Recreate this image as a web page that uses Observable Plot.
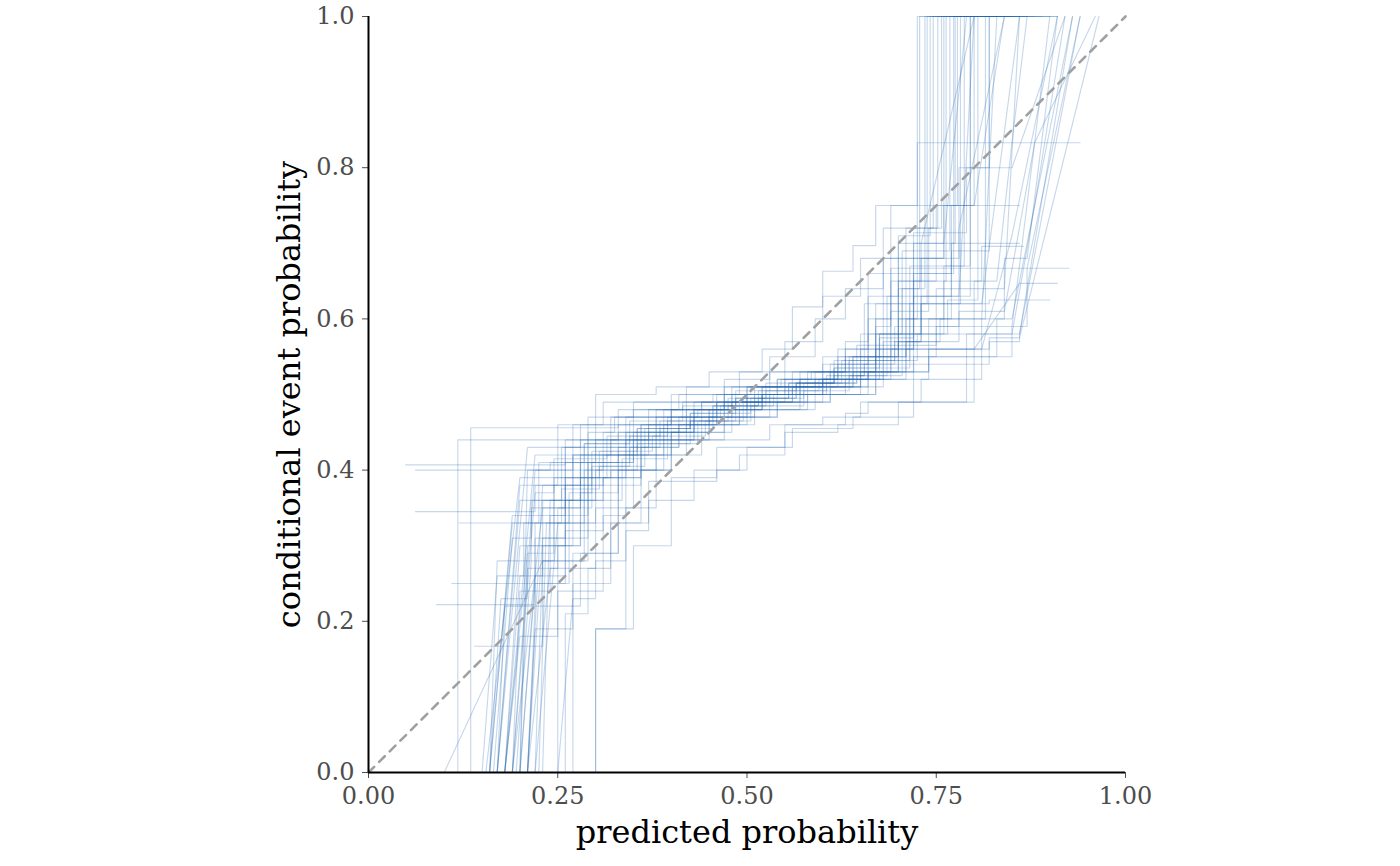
<!DOCTYPE html>
<html>
<head>
<meta charset="utf-8">
<script src="https://cdn.jsdelivr.net/npm/d3@7"></script>
<script src="https://cdn.jsdelivr.net/npm/@observablehq/plot@0.6"></script>
<style>
  html, body { margin: 0; padding: 0; background: #fff; }
  #chart svg { display: block; }
</style>
</head>
<body>
<div id="chart"></div>
<script>
// Axis ticks and labels
const xTicks = [0, 0.25, 0.5, 0.75, 1];
const yTicks = [0, 0.2, 0.4, 0.6, 0.8, 1];
const xLabel = "predicted probability";
const yLabel = "conditional event probability";
const diagonal = [0, 1];

// Bootstrap reliability curves.
// Each knot is [x, y] (step: horizontal then vertical) or [x, y, 1] (straight link).
const curve01 = [[0.16,0],[0.19,0.34,1],[0.26,0.41],[0.33,0.45],[0.41,0.47],[0.47,0.49],[0.55,0.51],[0.62,0.54],[0.67,0.62],[0.738,1.0],[0.82,1.0]];
const curve02 = [[0.18,0],[0.21,0.29,1],[0.245,0.38],[0.295,0.425],[0.355,0.455],[0.425,0.475],[0.505,0.495],[0.575,0.515],[0.645,0.565],[0.705,0.69],[0.768,1.0],[0.86,1.0]];
const curve03 = [[0.049,0.407],[0.26,0.43],[0.34,0.47],[0.43,0.49],[0.51,0.51],[0.59,0.53],[0.65,0.56],[0.70,0.65],[0.75,0.75],[0.80,0.75],[0.84,1.0,1]];
const curve04 = [[0.20,0],[0.22,0.25,1],[0.265,0.36],[0.335,0.415],[0.395,0.455],[0.455,0.485],[0.515,0.505],[0.595,0.52],[0.675,0.58],[0.715,0.67],[0.795,1.0],[0.88,1.0]];
const curve05 = [[0.118,0],[0.118,0.44],[0.30,0.46],[0.39,0.48],[0.48,0.50],[0.57,0.52],[0.66,0.55],[0.71,0.60],[0.77,0.70],[0.86,0.70]];
const curve06 = [[0.10,0],[0.23,0.28,1],[0.285,0.40],[0.355,0.435],[0.435,0.465],[0.495,0.495],[0.565,0.515],[0.635,0.545],[0.685,0.63],[0.78,0.63],[0.80,1.0,1]];
const curve07 = [[0.21,0],[0.23,0.31,1],[0.29,0.43],[0.37,0.47],[0.44,0.49],[0.52,0.50],[0.60,0.52],[0.67,0.60],[0.71,0.72],[0.757,1.0]];
const curve08 = [[0.135,0],[0.135,0.456],[0.33,0.48],[0.41,0.50],[0.49,0.51],[0.56,0.53],[0.63,0.55],[0.67,0.59],[0.69,0.667],[0.925,0.667]];
const curve09 = [[0.17,0],[0.20,0.36,1],[0.27,0.42],[0.35,0.46],[0.40,0.48],[0.47,0.50],[0.54,0.52],[0.62,0.55],[0.70,0.60],[0.725,0.833],[0.94,0.833]];
const curve10 = [[0.19,0],[0.22,0.37,1],[0.245,0.415],[0.315,0.445],[0.385,0.465],[0.455,0.485],[0.525,0.515],[0.615,0.535],[0.715,0.58],[0.86,0.58],[0.94,1.0,1]];
const curve11 = [[0.062,0.345],[0.22,0.38],[0.28,0.42],[0.36,0.44],[0.43,0.47],[0.50,0.49],[0.57,0.52],[0.66,0.55],[0.70,0.64],[0.728,1.0],[0.91,1.0]];
const curve12 = [[0.16,0],[0.17,0.28,1],[0.215,0.35],[0.295,0.405],[0.345,0.445],[0.395,0.465],[0.475,0.485],[0.535,0.50],[0.605,0.525],[0.655,0.545],[0.715,0.62],[0.81,0.62],[0.86,1.0,1]];
const curve13 = [[0.22,0],[0.25,0.33,1],[0.33,0.42],[0.40,0.47],[0.47,0.50],[0.55,0.52],[0.62,0.56],[0.66,0.60],[0.69,0.75],[0.86,0.75]];
const curve14 = [[0.27,0],[0.27,0.29],[0.33,0.40],[0.40,0.45],[0.48,0.49],[0.56,0.51],[0.64,0.55],[0.69,0.65],[0.73,0.70],[0.80,1.0,1]];
const curve15 = [[0.30,0],[0.30,0.19],[0.34,0.35],[0.38,0.44],[0.45,0.48],[0.52,0.50],[0.60,0.53],[0.69,0.56],[0.74,0.60],[0.81,0.60],[0.83,1.0,1]];
const curve16 = [[0.09,0.222],[0.22,0.25],[0.26,0.40],[0.31,0.45],[0.38,0.47],[0.46,0.49],[0.53,0.51],[0.60,0.54],[0.65,0.58],[0.70,0.70],[0.735,1.0],[0.80,1.0]];
const curve17 = [[0.18,0],[0.20,0.18,1],[0.25,0.30],[0.28,0.37],[0.33,0.43],[0.41,0.46],[0.49,0.49],[0.58,0.51],[0.65,0.53],[0.71,0.56],[0.80,0.56],[0.86,0.647,1],[0.91,0.647]];
const curve18 = [[0.20,0],[0.21,0.40,1],[0.26,0.44],[0.36,0.46],[0.43,0.48],[0.50,0.51],[0.58,0.53],[0.67,0.58],[0.73,0.68],[0.78,0.80],[0.82,1.0],[0.85,1.0]];
const curve19 = [[0.11,0.25],[0.22,0.33],[0.27,0.42],[0.34,0.45],[0.42,0.48],[0.51,0.50],[0.57,0.51],[0.63,0.53],[0.68,0.57],[0.73,0.62],[0.82,0.625],[0.90,0.625]];
const curve20 = [[0.155,0],[0.20,0.39,1],[0.285,0.435],[0.365,0.455],[0.425,0.475],[0.485,0.495],[0.565,0.515],[0.625,0.545],[0.695,0.59],[0.78,0.72],[0.84,1.0,1],[0.90,1.0]];
const curve21 = [[0.19,0],[0.20,0.24,1],[0.24,0.34],[0.29,0.41],[0.35,0.44],[0.44,0.47],[0.51,0.49],[0.60,0.50],[0.67,0.55],[0.71,0.60],[0.76,0.67],[0.787,1.0],[0.83,1.0]];
const curve22 = [[0.21,0],[0.24,0.27,1],[0.30,0.35],[0.35,0.42],[0.42,0.46],[0.50,0.48],[0.59,0.50],[0.66,0.53],[0.74,0.55],[0.85,0.59],[0.88,0.833,1],[0.96,1.0,1]];
const curve23 = [[0.14,0.167],[0.23,0.30],[0.28,0.39],[0.32,0.44],[0.39,0.46],[0.46,0.49],[0.52,0.51],[0.60,0.52],[0.68,0.56],[0.72,0.65],[0.763,1.0],[0.84,1.0]];
const curve24 = [[0.17,0],[0.18,0.22,1],[0.22,0.31],[0.26,0.38],[0.31,0.42],[0.37,0.45],[0.43,0.47],[0.48,0.49],[0.56,0.51],[0.64,0.53],[0.70,0.58],[0.76,0.65],[0.81,0.696],[0.865,0.696]];
const curve25 = [[0.23,0],[0.24,0.36,1],[0.30,0.44],[0.38,0.48],[0.46,0.50],[0.54,0.52],[0.61,0.54],[0.66,0.63],[0.70,0.71],[0.742,1.0],[0.78,1.0]];
const curve26 = [[0.18,0],[0.22,0.42,1],[0.32,0.47],[0.40,0.49],[0.48,0.51],[0.55,0.53],[0.63,0.56],[0.68,0.68],[0.76,0.75],[0.778,1.0],[0.81,1.0]];
const curve27 = [[0.20,0],[0.22,0.26,1],[0.26,0.32],[0.31,0.39],[0.36,0.43],[0.41,0.46],[0.49,0.48],[0.57,0.50],[0.65,0.52],[0.71,0.54],[0.79,0.54],[0.82,0.57],[0.86,0.58],[0.93,1.0,1]];
const curve28 = [[0.16,0],[0.19,0.33,1],[0.225,0.41],[0.285,0.435],[0.345,0.465],[0.415,0.485],[0.485,0.505],[0.555,0.515],[0.615,0.545],[0.655,0.62],[0.72,0.714],[0.79,0.80],[0.85,0.80],[0.92,1.0,1]];
const curve29 = [[0.25,0],[0.25,0.24],[0.31,0.34],[0.34,0.42],[0.39,0.46],[0.46,0.48],[0.52,0.50],[0.59,0.52],[0.65,0.54],[0.71,0.57],[0.73,0.62],[0.782,1.0],[0.89,1.0]];
const curve30 = [[0.062,0.40],[0.24,0.41],[0.30,0.44],[0.37,0.46],[0.45,0.48],[0.52,0.51],[0.61,0.53],[0.67,0.56],[0.72,0.63],[0.77,0.69],[0.82,1.0],[0.87,1.0]];
const curve31 = [[0.21,0],[0.22,0.19,1],[0.27,0.25],[0.32,0.33],[0.36,0.40],[0.40,0.45],[0.47,0.47],[0.54,0.50],[0.63,0.52],[0.69,0.55],[0.75,0.59],[0.85,0.59],[0.87,0.667],[0.94,1.0,1]];
const curve32 = [[0.17,0],[0.21,0.43,1],[0.28,0.46],[0.35,0.48],[0.44,0.49],[0.53,0.50],[0.60,0.52],[0.64,0.55],[0.69,0.61],[0.74,0.72],[0.752,1.0],[0.86,1.0]];
const curve33 = [[0.19,0],[0.23,0.35,1],[0.26,0.39],[0.34,0.44],[0.43,0.46],[0.51,0.48],[0.58,0.50],[0.67,0.52],[0.74,0.56],[0.82,0.575],[0.86,0.575],[0.965,1.0,1]];
const curve34 = [[0.22,0],[0.23,0.28,1],[0.29,0.38],[0.36,0.46],[0.42,0.49],[0.50,0.51],[0.57,0.53],[0.63,0.57],[0.66,0.66],[0.74,0.66],[0.773,1.0],[0.84,1.0]];
const curve35 = [[0.16,0],[0.175,0.23,1],[0.21,0.27],[0.25,0.35],[0.28,0.41],[0.35,0.45],[0.43,0.48],[0.50,0.50],[0.56,0.51],[0.65,0.53],[0.70,0.57],[0.78,0.61],[0.84,0.61],[0.88,0.833,1],[0.90,1.0,1]];
const curve36 = [[0.12,0.33],[0.255,0.375],[0.305,0.405],[0.365,0.435],[0.425,0.465],[0.485,0.495],[0.555,0.515],[0.615,0.535],[0.675,0.575],[0.72,0.70],[0.76,0.70],[0.79,1.0,1],[0.91,1.0]];
const curve37 = [[0.20,0],[0.21,0.30,1],[0.27,0.33],[0.30,0.40],[0.39,0.44],[0.47,0.47],[0.54,0.49],[0.61,0.51],[0.66,0.53],[0.72,0.66],[0.77,0.75],[0.80,1.0]];
const curve38 = [[0.18,0],[0.20,0.26,1],[0.23,0.36],[0.28,0.44],[0.33,0.46],[0.40,0.48],[0.47,0.51],[0.53,0.53],[0.60,0.55],[0.66,0.58],[0.73,0.63],[0.77,0.63],[0.795,1.0],[0.85,1.0]];
const curve39 = [[0.26,0],[0.26,0.21],[0.29,0.27],[0.32,0.40],[0.38,0.45],[0.45,0.47],[0.53,0.49],[0.61,0.51],[0.68,0.53],[0.74,0.56],[0.81,0.56],[0.85,0.71,1],[0.91,1.0,1]];
const curve40 = [[0.15,0],[0.17,0.26,1],[0.205,0.33],[0.245,0.39],[0.305,0.425],[0.375,0.445],[0.445,0.465],[0.505,0.485],[0.575,0.505],[0.635,0.525],[0.705,0.565],[0.75,0.64],[0.84,0.64],[0.86,1.0,1]];
const curve41 = [[0.21,0],[0.22,0.22,1],[0.28,0.29],[0.33,0.33],[0.37,0.385],[0.46,0.43],[0.55,0.46],[0.63,0.475],[0.66,0.49],[0.72,0.55],[0.80,0.55],[0.83,0.60],[0.85,0.60],[0.93,1.0,1]];
const curve42 = [[0.18,0],[0.20,0.30,1],[0.26,0.36],[0.31,0.39],[0.36,0.42],[0.44,0.44],[0.53,0.46],[0.60,0.47],[0.65,0.49],[0.73,0.52],[0.78,0.52],[0.81,0.60],[0.84,0.68],[0.87,0.68],[0.91,1.0,1]];
const curve43 = [[0.19,0],[0.22,0.40,1],[0.27,0.46],[0.30,0.50],[0.38,0.51],[0.45,0.53],[0.52,0.56],[0.56,0.616],[0.60,0.663],[0.64,0.697],[0.67,0.75],[0.725,1.0],[0.79,1.0]];
const curve44 = [[0.17,0],[0.20,0.38,1],[0.25,0.46],[0.31,0.49],[0.40,0.50],[0.47,0.52],[0.53,0.55],[0.59,0.60],[0.63,0.64],[0.68,0.72],[0.74,0.72],[0.746,1.0],[0.83,1.0]];
const curve45 = [[0.21,0],[0.23,0.38,1],[0.29,0.47],[0.35,0.49],[0.42,0.51],[0.49,0.53],[0.55,0.57],[0.60,0.63],[0.65,0.68],[0.72,0.68],[0.76,1.0],[0.80,1.0]];
const curve46 = [[0.30,0],[0.30,0.19],[0.35,0.30],[0.40,0.39],[0.46,0.40],[0.49,0.42],[0.55,0.45],[0.62,0.46],[0.70,0.49],[0.78,0.49],[0.80,0.65],[0.83,0.65],[0.85,0.833,1],[0.87,1.0,1]];
const curve47 = [[0.25,0],[0.27,0.23,1],[0.30,0.28],[0.34,0.32],[0.37,0.36],[0.43,0.40],[0.50,0.43],[0.56,0.455],[0.64,0.47],[0.72,0.49],[0.78,0.49],[0.79,0.58],[0.85,0.58],[0.88,0.75,1],[0.92,1.0,1]];
const curve48 = [[0.165,0],[0.19,0.31,1],[0.215,0.36],[0.255,0.43],[0.29,0.45],[0.325,0.47],[0.37,0.48],[0.415,0.49],[0.455,0.50],[0.505,0.51],[0.545,0.52],[0.585,0.53],[0.635,0.55],[0.675,0.58],[0.705,0.64],[0.735,0.70],[0.77,0.70],[0.775,1.0],[0.80,1.0]];
const curve49 = [[0.195,0],[0.215,0.28,1],[0.245,0.33],[0.285,0.39],[0.315,0.42],[0.355,0.455],[0.395,0.47],[0.435,0.48],[0.475,0.495],[0.525,0.505],[0.565,0.515],[0.615,0.525],[0.655,0.54],[0.695,0.57],[0.755,0.60],[0.805,0.60],[0.815,1.0],[0.87,1.0]];
const curve50 = [[0.225,0],[0.235,0.33,1],[0.265,0.37],[0.295,0.41],[0.345,0.43],[0.385,0.455],[0.425,0.465],[0.465,0.485],[0.515,0.495],[0.555,0.505],[0.605,0.515],[0.645,0.525],[0.685,0.545],[0.725,0.58],[0.765,0.625],[0.80,0.625],[0.805,1.0],[0.825,1.0]];

const curves = [curve01,curve02,curve03,curve04,curve05,curve06,curve07,curve08,curve09,curve10,
  curve11,curve12,curve13,curve14,curve15,curve16,curve17,curve18,curve19,curve20,
  curve21,curve22,curve23,curve24,curve25,curve26,curve27,curve28,curve29,curve30,
  curve31,curve32,curve33,curve34,curve35,curve36,curve37,curve38,curve39,curve40,
  curve41,curve42,curve43,curve44,curve45,curve46,curve47,curve48,curve49,curve50];

// Expand knots into a vertex table for the line mark
const rows = [];
curves.forEach((knots, id) => {
  let py = knots[0][1];
  rows.push({id, x: knots[0][0], y: py});
  for (let i = 1; i < knots.length; i++) {
    const [x, y, link] = knots[i];
    if (!link) rows.push({id, x, y: py});
    rows.push({id, x, y});
    py = y;
  }
});

const font = "'DejaVu Serif', serif";

const chart = Plot.plot({
  width: 1400,
  height: 866,
  marginLeft: 368,
  marginRight: 275,
  marginTop: 16,
  marginBottom: 94,
  style: {fontFamily: font, background: "#fff", overflow: "visible"},
  x: {domain: [0, 1]},
  y: {domain: [0, 1]},
  marks: [
    Plot.line(rows, {x: "x", y: "y", z: "id", stroke: "#1f65b0", strokeOpacity: 0.25, strokeWidth: 1.15, curve: "linear"}),
    Plot.line(diagonal.map(v => ({x: v, y: v})), {x: "x", y: "y", stroke: "#a0a0a0", strokeWidth: 2.6, strokeDasharray: "8,7"}),
    Plot.axisX({ticks: xTicks, tickFormat: d => d.toFixed(2), fontSize: 24, tickSize: 6, tickPadding: 8, color: "#4d4d4d", label: null}),
    Plot.axisY({ticks: yTicks, tickFormat: d => d.toFixed(1), fontSize: 24, tickSize: 6, tickPadding: 8, color: "#4d4d4d", label: null}),
    Plot.ruleX([0], {stroke: "#000", strokeWidth: 2}),
    Plot.ruleY([0], {stroke: "#000", strokeWidth: 2}),
    Plot.text([xLabel], {frameAnchor: "bottom", dy: 70, fontSize: 32, fill: "#000", fontFamily: font}),
    Plot.text([yLabel], {frameAnchor: "left", dx: -79, rotate: -90, textAnchor: "middle", fontSize: 32, fill: "#000", fontFamily: font})
  ]
});

document.getElementById("chart").appendChild(chart);
</script>
</body>
</html>
